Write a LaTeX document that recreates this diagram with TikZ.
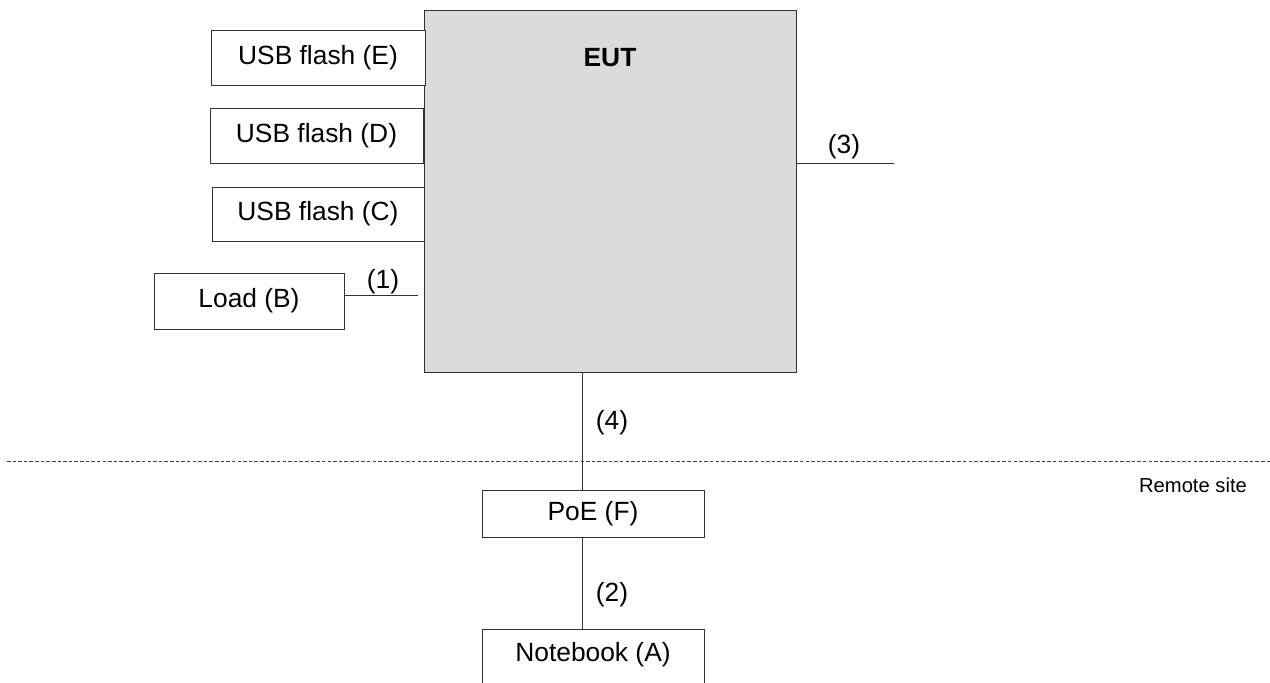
\documentclass[tikz,border=0pt]{standalone}
\usepackage{fontspec}
\setmainfont{Liberation Sans}
\usepackage{xcolor}
\usepackage{tikz}

\tikzset{
    box/.style={draw=black!80, line width=0.5pt, fill=white, rectangle, font=\fontsize{15}{18}\selectfont},
    eutbox/.style={box, fill=black!14},
    lbl/.style={font=\fontsize{15}{18}\selectfont},
    wire/.style={draw=black!80, line width=0.5pt}
}

\begin{document}
\begin{tikzpicture}
    \useasboundingbox (0,0) rectangle (25.4,13.64);
    \clip (0,0) rectangle (25.4,13.64);

    % Equipment under test
    \node[eutbox, minimum width=7.44cm, minimum height=7.24cm] (eut) at (12.2,9.82) {};
    \node[font=\fontsize{15}{18}\selectfont\bfseries] (euttxt) at (12.2,12.49) {EUT};

    % Devices on the left
    \node[box, minimum width=4.28cm, minimum height=1.1cm] (usbe) at (6.36,12.49) {USB flash (E)};
    \node[box, minimum width=4.26cm, minimum height=1.1cm] (usbd) at (6.33,10.93) {USB flash (D)};
    \node[box, minimum width=4.24cm, minimum height=1.08cm] (usbc) at (6.36,9.36) {USB flash (C)};
    \node[box, minimum width=3.8cm, minimum height=1.12cm] (load) at (4.98,7.62) {Load (B)};

    % Remote site devices
    \node[box, minimum width=4.44cm, minimum height=0.94cm] (poe) at (11.86,3.37) {PoE (F)};
    \node[box, anchor=base, minimum width=4.44cm, minimum height=0pt,
          text height=0.45cm, text depth=1cm, inner ysep=0.2cm] (nb) at (11.86,0.41) {Notebook (A)};

    % Cables
    \coordinate (c1) at (8.36,7.74);
    \coordinate (c3) at (17.88,10.38);
    \coordinate (bus) at (11.64,0);
    \draw[wire] (c1 -| load.east) -- (c1);
    \draw[wire] (c3 -| eut.east) -- (c3);
    \draw[wire] (bus |- eut.south) -- (bus |- poe.north);
    \draw[wire] (bus |- poe.south) -- (bus |- nb.north);

    % Cable labels
    \node[lbl] (l1) at (7.66,8.0) {(1)};
    \node[lbl] (l3) at (16.88,10.7) {(3)};
    \node[lbl] (l4) at (12.24,5.18) {(4)};
    \node[lbl] (l2) at (12.24,1.74) {(2)};

    % Site border
    \coordinate (sl) at (0.14,4.42);
    \coordinate (sr) at (25.4,4.42);
    \draw[black!75, line width=0.5pt, dash pattern=on 2pt off 1.2pt] (sl) -- (sr);
    \node[font=\fontsize{11.5}{14}\selectfont] (remote) at (23.86,3.94) {Remote site};
\end{tikzpicture}
\end{document}
